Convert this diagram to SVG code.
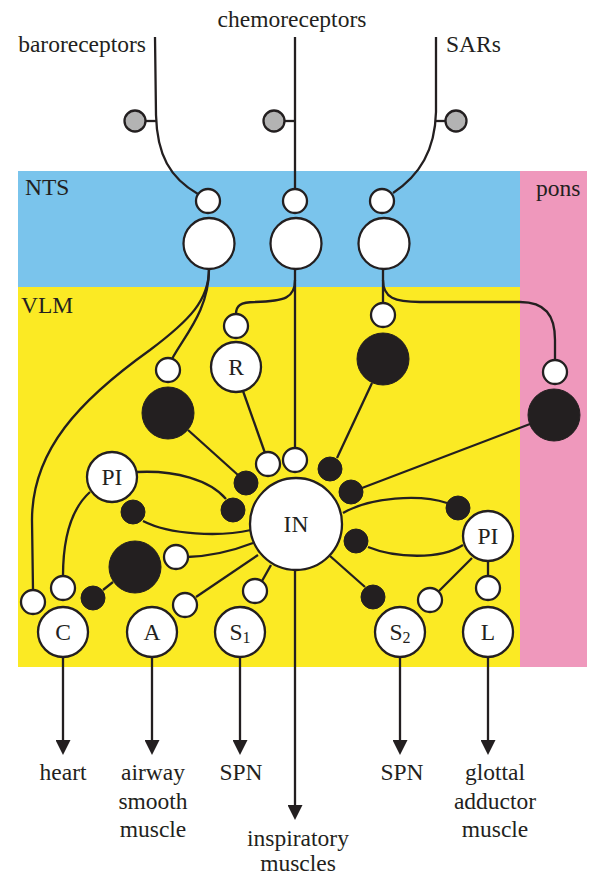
<svg xmlns="http://www.w3.org/2000/svg" width="590" height="877" viewBox="0 0 590 877">
<style>
.ln{fill:none;stroke:#231f20;stroke-width:2.3}
.w{fill:#fff;stroke:#231f20;stroke-width:2.3}
.b{fill:#231f20;stroke:#231f20;stroke-width:1}
.g{fill:#b3b3b3;stroke:#231f20;stroke-width:2.3}
text{font-family:"Liberation Serif","Times New Roman",serif;font-size:23.5px;fill:#231f20}
.m{text-anchor:middle}
.sub{font-size:16px}
</style>
<defs>
<marker id="arr" markerUnits="userSpaceOnUse" markerWidth="15" markerHeight="15" viewBox="0 0 15 15" refX="5" refY="7.5" orient="auto">
<path d="M0,0 L15,7.5 L0,15 z" fill="#231f20"/>
</marker>
</defs>
<g id="regions">
<rect x="18" y="171" width="502" height="116" fill="#7ac4ec"/>
<rect x="18" y="287" width="502" height="380" fill="#fbea24"/>
<rect x="520" y="171" width="67" height="496" fill="#ef98bc"/>
<text x="25" y="195">NTS</text>
<text x="536" y="196">pons</text>
<text x="21" y="313">VLM</text>
</g>
<g id="connectors">
<path class="ln" d="M155 37 L156 115 C157 155 170 178 198 194"/>
<path class="ln" d="M146 121 H157"/>
<path class="ln" d="M295 37 V189"/>
<path class="ln" d="M285 121 H295"/>
<path class="ln" d="M436 37 L436 112 C435 150 420 175 393 193"/>
<path class="ln" d="M436 121 H446"/>
<path class="ln" d="M209 269 C209 300 190 320 150 350 C80 400 32 450 32 520 L33 590"/>
<path class="ln" d="M209 269 C209 310 185 335 172 359"/>
<path class="ln" d="M295 269 V448"/>
<path class="ln" d="M295 280 C295 298 285 301 255 302 C240 302 236 306 236 314"/>
<path class="ln" d="M383 269 V303"/>
<path class="ln" d="M383 280 C383 298 395 302 420 302 L520 302 C545 302 555 315 555 340 V360"/>
<path class="ln" d="M243 391 L265 453"/>
<path class="ln" d="M188 430 L238 475"/>
<path class="ln" d="M337 458 L372 383"/>
<path class="ln" d="M362 488 L530 424"/>
<path class="ln" d="M137 472 C175 470 210 480 226 499"/>
<path class="ln" d="M90 492 C70 510 63 540 63 576"/>
<path class="ln" d="M143 521 C170 535 220 537 251 530"/>
<path class="ln" d="M187 557 C215 556 235 550 253 543"/>
<path class="ln" d="M196 597 L258 555"/>
<path class="ln" d="M262 581 L271 565"/>
<path class="ln" d="M113 582 L103 590"/>
<path class="ln" d="M343 513 C370 497 420 494 447 503"/>
<path class="ln" d="M368 547 C395 558 440 560 463 545"/>
<path class="ln" d="M330 556 L365 587"/>
<path class="ln" d="M472 558 L437 593"/>
<path class="ln" d="M488 561 V576"/>
<path class="ln" d="M295 570 V810" marker-end="url(#arr)"/>
<path class="ln" d="M63 657 V745" marker-end="url(#arr)"/>
<path class="ln" d="M152 657 V745" marker-end="url(#arr)"/>
<path class="ln" d="M240 657 V745" marker-end="url(#arr)"/>
<path class="ln" d="M400 657 V745" marker-end="url(#arr)"/>
<path class="ln" d="M488 657 V745" marker-end="url(#arr)"/>
</g>
<g id="baroreceptors"><text x="146" y="52" text-anchor="end">baroreceptors</text><circle class="g" cx="135" cy="121" r="10.5"/></g>
<g id="chemoreceptors"><text class="m" x="292" y="27">chemoreceptors</text><circle class="g" cx="274" cy="121" r="10.5"/></g>
<g id="SARs"><text x="446" y="52">SARs</text><circle class="g" cx="456" cy="121" r="10.5"/></g>
<g id="nts-baro"><circle class="w" cx="208" cy="201" r="12"/><circle class="w" cx="209" cy="243.5" r="25.5"/></g>
<g id="nts-chemo"><circle class="w" cx="295" cy="201" r="12"/><circle class="w" cx="296" cy="243.5" r="25.5"/></g>
<g id="nts-sar"><circle class="w" cx="382" cy="201" r="12"/><circle class="w" cx="384" cy="243.5" r="25.5"/></g>
<g id="R"><circle class="w" cx="236" cy="326" r="12"/><circle class="w" cx="236" cy="367" r="25"/><text class="m" x="236" y="375">R</text></g>
<g id="baro-inhib"><circle class="w" cx="168" cy="370" r="12"/><circle class="b" cx="168" cy="413" r="26"/></g>
<g id="sar-inhib"><circle class="w" cx="383" cy="315" r="12"/><circle class="b" cx="383" cy="359" r="26"/></g>
<g id="pons-neuron"><circle class="w" cx="555" cy="372" r="12"/><circle class="b" cx="554" cy="415" r="26"/></g>
<g id="IN">
<circle class="w" cx="296" cy="524" r="46"/>
<text class="m" x="296" y="532">IN</text>
<circle class="w" cx="268" cy="464" r="12"/>
<circle class="w" cx="295" cy="460" r="12"/>
<circle class="b" cx="246" cy="483" r="12"/>
<circle class="b" cx="233" cy="510" r="12"/>
<circle class="b" cx="330" cy="469" r="12"/>
<circle class="b" cx="351" cy="492" r="12"/>
<circle class="b" cx="356" cy="541" r="12"/>
</g>
<g id="PI-left"><circle class="w" cx="112" cy="477" r="25"/><text class="m" x="112" y="485">PI</text><circle class="b" cx="133" cy="512" r="12"/></g>
<g id="PI-right"><circle class="w" cx="488" cy="536" r="25"/><text class="m" x="488" y="544">PI</text><circle class="b" cx="458" cy="508" r="12"/></g>
<g id="airway-inhib"><circle class="w" cx="176" cy="557" r="12"/><circle class="b" cx="135" cy="567" r="26"/><circle class="b" cx="93" cy="598" r="12"/></g>
<g id="C"><circle class="w" cx="33" cy="602" r="12"/><circle class="w" cx="63" cy="588" r="12"/><circle class="w" cx="63" cy="632" r="25"/><text class="m" x="63" y="640">C</text></g>
<g id="A"><circle class="w" cx="185" cy="605" r="12"/><circle class="w" cx="152" cy="632" r="25"/><text class="m" x="152" y="640">A</text></g>
<g id="S1"><circle class="w" cx="255" cy="591" r="12"/><circle class="w" cx="240" cy="632" r="25"/><text class="m" x="240" y="640">S<tspan class="sub" dy="3">1</tspan></text></g>
<g id="S2"><circle class="b" cx="373" cy="597" r="12"/><circle class="w" cx="400" cy="632" r="25"/><text class="m" x="400" y="640">S<tspan class="sub" dy="3">2</tspan></text></g>
<g id="L"><circle class="w" cx="430" cy="600" r="12"/><circle class="w" cx="488" cy="588" r="12"/><circle class="w" cx="488" cy="632" r="25"/><text class="m" x="488" y="640">L</text></g>
<g id="targets">
<text class="m" x="63" y="780">heart</text>
<text class="m" x="153" y="780">airway</text>
<text class="m" x="153" y="809">smooth</text>
<text class="m" x="153" y="837">muscle</text>
<text class="m" x="241" y="780">SPN</text>
<text class="m" x="298" y="846">inspiratory</text>
<text class="m" x="298" y="871">muscles</text>
<text class="m" x="402" y="780">SPN</text>
<text class="m" x="495" y="780">glottal</text>
<text class="m" x="495" y="809">adductor</text>
<text class="m" x="495" y="837">muscle</text>
</g>
</svg>
